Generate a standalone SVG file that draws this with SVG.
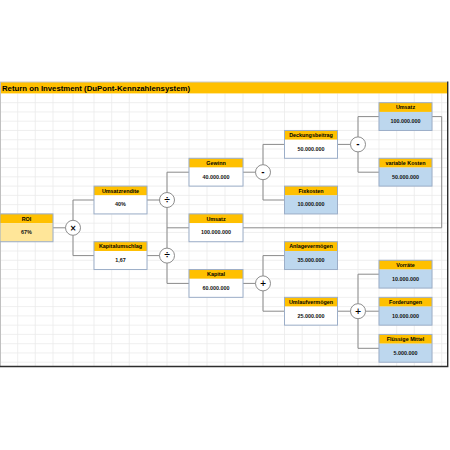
<svg xmlns="http://www.w3.org/2000/svg" width="450" height="450" viewBox="0 0 450 450">
<style>
.grid{stroke:#ebebeb;stroke-width:0.8;fill:none}
.hd{fill:#ffc000}
.vw{fill:#ffffff}
.vb{fill:#bdd7ee}
.vy{fill:#ffe699}
.bd{fill:none;stroke:#9caec8;stroke-width:1}
.ht{font-family:"Liberation Sans",Arial,sans-serif;font-size:5.4px;font-weight:bold;text-anchor:middle;fill:#000}
.vt{font-family:"Liberation Sans",Arial,sans-serif;font-size:5.4px;font-weight:bold;text-anchor:middle;fill:#111}
.op circle{fill:#fff;stroke:#808080;stroke-width:0.9}
.op text{font-family:"DejaVu Sans",sans-serif;font-size:8px;font-weight:bold;text-anchor:middle;fill:#000}
.cn{fill:none;stroke:#8a8a8a;stroke-width:1}
</style>
<rect width="450" height="450" fill="#fff"/>
<g id="sheet">
<path class="grid" d="M0,102.67H447M0,111.94H447M0,121.21H447M0,130.48H447M0,139.75H447M0,149.02H447M0,158.29H447M0,167.56H447M0,176.83H447M0,186.1H447M0,195.37H447M0,204.64H447M0,213.91H447M0,223.18H447M0,232.45H447M0,241.72H447M0,250.99H447M0,260.26H447M0,269.53H447M0,278.8H447M0,288.07H447M0,297.34H447M0,306.61H447M0,315.88H447M0,325.15H447M0,334.42H447M0,343.69H447M0,352.96H447M0,362.23H447M17.7,93.4V366M35.3,93.4V366M53,93.4V366M73,93.4V366M94,93.4V366M111.7,93.4V366M129.3,93.4V366M147,93.4V366M167,93.4V366M189,93.4V366M207,93.4V366M225,93.4V366M243,93.4V366M263,93.4V366M284.5,93.4V366M302.2,93.4V366M319.8,93.4V366M337.5,93.4V366M358,93.4V366M379,93.4V366M396.7,93.4V366M414.3,93.4V366M432,93.4V366M441.7,93.4V366"/>
<rect x="0" y="82" width="447" height="11.4" fill="#ffc000"/>
<path d="M0,82H447" stroke="#c8c8c8" stroke-width="1" fill="none"/>
<path d="M0.5,82V366" stroke="#c0c0c0" stroke-width="1" fill="none"/>
<path d="M447.7,81.5V367.2M0,366.5H448.4" stroke="#2e2e2e" stroke-width="1.4" fill="none"/>
<text x="2" y="90.9" font-family="Liberation Sans,Arial,sans-serif" font-size="7.6" font-weight="bold" fill="#000" textLength="188" lengthAdjust="spacingAndGlyphs">Return on Investment (DuPont-Kennzahlensystem)</text>
</g>
<g id="connectors">
<path class="cn" d="M53,227.8H65.5M73,220.3V200H94M73,235.3V255.6H94M147,200H159.5M147,255.6H159.5M167,192.5V172.2H189M167,207.5V248.1M167,227.8H189M167,263.1V283.4H189M243,172.2H255.5M263,164.7V144.4H284.5M263,179.7V200H284.5M337.5,144.4H350.5M358,136.9V116.6H379M358,151.9V172.2H379M243,227.8H441.7V116.6H432M243,283.4H255.5M263,275.9V255.6H284.5M263,290.9V311.2H284.5M337.5,311.2H350.5M358,303.7V274.2H379M365.5,311.2H379M358,318.7V348.3H379"/>
</g>
<g id="n-roi" transform="translate(0,213.91)"><rect class="hd" width="53" height="9.27"/><rect class="vy" y="9.27" width="53" height="18.54"/><rect class="bd" width="53" height="27.81"/><text class="ht" x="26.5" y="6.7">ROI</text><text class="vt" x="26.5" y="20.4">67%</text></g>
<g id="n-umsatzrendite" transform="translate(94,186.1)"><rect class="hd" width="53" height="9.27"/><rect class="vw" y="9.27" width="53" height="18.54"/><rect class="bd" width="53" height="27.81"/><text class="ht" x="26.5" y="6.7">Umsatzrendite</text><text class="vt" x="26.5" y="20.4">40%</text></g>
<g id="n-kapitalumschlag" transform="translate(94,241.72)"><rect class="hd" width="53" height="9.27"/><rect class="vw" y="9.27" width="53" height="18.54"/><rect class="bd" width="53" height="27.81"/><text class="ht" x="26.5" y="6.7">Kapitalumschlag</text><text class="vt" x="26.5" y="20.4">1,67</text></g>
<g id="n-gewinn" transform="translate(189,158.29)"><rect class="hd" width="54" height="9.27"/><rect class="vw" y="9.27" width="54" height="18.54"/><rect class="bd" width="54" height="27.81"/><text class="ht" x="27" y="6.7">Gewinn</text><text class="vt" x="27" y="20.4">40.000.000</text></g>
<g id="n-umsatz-mid" transform="translate(189,213.91)"><rect class="hd" width="54" height="9.27"/><rect class="vw" y="9.27" width="54" height="18.54"/><rect class="bd" width="54" height="27.81"/><text class="ht" x="27" y="6.7">Umsatz</text><text class="vt" x="27" y="20.4">100.000.000</text></g>
<g id="n-kapital" transform="translate(189,269.53)"><rect class="hd" width="54" height="9.27"/><rect class="vw" y="9.27" width="54" height="18.54"/><rect class="bd" width="54" height="27.81"/><text class="ht" x="27" y="6.7">Kapital</text><text class="vt" x="27" y="20.4">60.000.000</text></g>
<g id="n-deckungsbeitrag" transform="translate(284.5,130.48)"><rect class="hd" width="53" height="9.27"/><rect class="vw" y="9.27" width="53" height="18.54"/><rect class="bd" width="53" height="27.81"/><text class="ht" x="26.5" y="6.7">Deckungsbeitrag</text><text class="vt" x="26.5" y="20.4">50.000.000</text></g>
<g id="n-fixkosten" transform="translate(284.5,186.1)"><rect class="hd" width="53" height="9.27"/><rect class="vb" y="9.27" width="53" height="18.54"/><rect class="bd" width="53" height="27.81"/><text class="ht" x="26.5" y="6.7">Fixkosten</text><text class="vt" x="26.5" y="20.4">10.000.000</text></g>
<g id="n-anlagevermoegen" transform="translate(284.5,241.72)"><rect class="hd" width="53" height="9.27"/><rect class="vb" y="9.27" width="53" height="18.54"/><rect class="bd" width="53" height="27.81"/><text class="ht" x="26.5" y="6.7">Anlagevermögen</text><text class="vt" x="26.5" y="20.4">35.000.000</text></g>
<g id="n-umlaufvermoegen" transform="translate(284.5,297.34)"><rect class="hd" width="53" height="9.27"/><rect class="vw" y="9.27" width="53" height="18.54"/><rect class="bd" width="53" height="27.81"/><text class="ht" x="26.5" y="6.7">Umlaufvermögen</text><text class="vt" x="26.5" y="20.4">25.000.000</text></g>
<g id="n-umsatz-top" transform="translate(379,102.67)"><rect class="hd" width="53" height="9.27"/><rect class="vb" y="9.27" width="53" height="18.54"/><rect class="bd" width="53" height="27.81"/><text class="ht" x="26.5" y="6.7">Umsatz</text><text class="vt" x="26.5" y="20.4">100.000.000</text></g>
<g id="n-variable-kosten" transform="translate(379,158.29)"><rect class="hd" width="53" height="9.27"/><rect class="vb" y="9.27" width="53" height="18.54"/><rect class="bd" width="53" height="27.81"/><text class="ht" x="26.5" y="6.7">variable Kosten</text><text class="vt" x="26.5" y="20.4">50.000.000</text></g>
<g id="n-vorraete" transform="translate(379,260.26)"><rect class="hd" width="53" height="9.27"/><rect class="vb" y="9.27" width="53" height="18.54"/><rect class="bd" width="53" height="27.81"/><text class="ht" x="26.5" y="6.7">Vorräte</text><text class="vt" x="26.5" y="20.4">10.000.000</text></g>
<g id="n-forderungen" transform="translate(379,297.34)"><rect class="hd" width="53" height="9.27"/><rect class="vb" y="9.27" width="53" height="18.54"/><rect class="bd" width="53" height="27.81"/><text class="ht" x="26.5" y="6.7">Forderungen</text><text class="vt" x="26.5" y="20.4">10.000.000</text></g>
<g id="n-fluessige-mittel" transform="translate(379,334.42)"><rect class="hd" width="53" height="9.27"/><rect class="vb" y="9.27" width="53" height="18.54"/><rect class="bd" width="53" height="27.81"/><text class="ht" x="26.5" y="6.7">Flüssige Mittel</text><text class="vt" x="26.5" y="20.4">5.000.000</text></g>
<g id="op-mul" class="op"><circle cx="73" cy="227.8" r="7.5"/><text x="73" y="230.6">×</text></g>
<g id="op-div1" class="op"><circle cx="167" cy="200" r="7.5"/><text x="167" y="202.8">÷</text></g>
<g id="op-div2" class="op"><circle cx="167" cy="255.6" r="7.5"/><text x="167" y="258.4">÷</text></g>
<g id="op-sub1" class="op"><circle cx="263" cy="172.2" r="7.5"/><text x="263" y="175">-</text></g>
<g id="op-sub2" class="op"><circle cx="358" cy="144.4" r="7.5"/><text x="358" y="147.2">-</text></g>
<g id="op-add1" class="op"><circle cx="263" cy="283.4" r="7.5"/><text x="263" y="286.2">+</text></g>
<g id="op-add2" class="op"><circle cx="358" cy="311.2" r="7.5"/><text x="358" y="314">+</text></g>
</svg>
